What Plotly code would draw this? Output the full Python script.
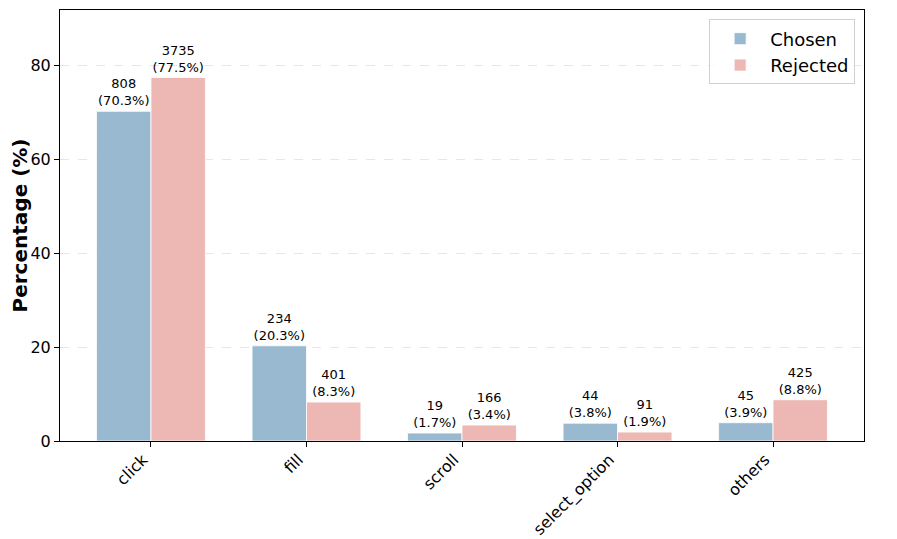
import plotly.graph_objects as go

categories = ["click", "fill", "scroll", "select_option", "others"]
chosen_counts = [808, 234, 19, 44, 45]
chosen_pct = [70.3, 20.3, 1.7, 3.8, 3.9]
rejected_counts = [3735, 401, 166, 91, 425]
rejected_pct = [77.5, 8.3, 3.4, 1.9, 8.8]
y_ticks = [0, 20, 40, 60, 80]

FONT = "DejaVu Sans"
BLUE = "#98B9D0"
PINK = "#EDB8B3"

fig = go.Figure()
x = list(range(len(categories)))
fig.add_trace(go.Bar(
    x=x, y=chosen_pct, name="Chosen", marker=dict(color=BLUE, line=dict(color="white", width=0.8)),
    text=[f"{c}<br>({p:.1f}%)" for c, p in zip(chosen_counts, chosen_pct)],
    textposition="outside", textfont=dict(family=FONT, size=13, color="black"),
    cliponaxis=False,
))
fig.add_trace(go.Bar(
    x=x, y=rejected_pct, name="Rejected", marker=dict(color=PINK, line=dict(color="white", width=0.8)),
    text=[f"{c}<br>({p:.1f}%)" for c, p in zip(rejected_counts, rejected_pct)],
    textposition="outside", textfont=dict(family=FONT, size=13, color="black"),
    cliponaxis=False,
))

fig.update_layout(
    width=897, height=539,
    margin=dict(l=50, r=41, t=1, b=106),
    paper_bgcolor="white", plot_bgcolor="white",
    barmode="group", bargap=0.3, bargroupgap=0,
    font=dict(family=FONT, size=16, color="black"),
    uniformtext=dict(mode=False),
    legend=dict(
        x=0.989, y=0.978, xanchor="right", yanchor="top",
        bgcolor="rgba(255,255,255,0.8)", bordercolor="#d0d0d0", borderwidth=1,
        font=dict(family=FONT, size=18), itemwidth=50,
    ),
    showlegend=True,
)
fig.update_xaxes(
    range=[-0.585, 4.585], tickmode="array", tickvals=x, ticktext=categories,
    tickangle=-45, ticks="outside", ticklen=5, tickcolor="black",
    ticklabelshift=-8, ticklabelstandoff=-3,
    showline=True, linecolor="black", linewidth=1, mirror=True,
    showgrid=False, zeroline=False, tickfont=dict(family=FONT, size=16),
)
fig.update_yaxes(
    range=[0, 91.9], tickmode="array", tickvals=y_ticks,
    ticks="outside", ticklen=5, tickcolor="black",
    showline=True, linecolor="black", linewidth=1, mirror=True,
    showgrid=True, gridcolor="#e6e6e6", griddash="dash", gridwidth=0.8,
    zeroline=False, tickfont=dict(family=FONT, size=16),
    title=dict(text="<b>Percentage (%)</b>", font=dict(family=FONT, size=20), standoff=7),
)
fig.write_html("out.html")
